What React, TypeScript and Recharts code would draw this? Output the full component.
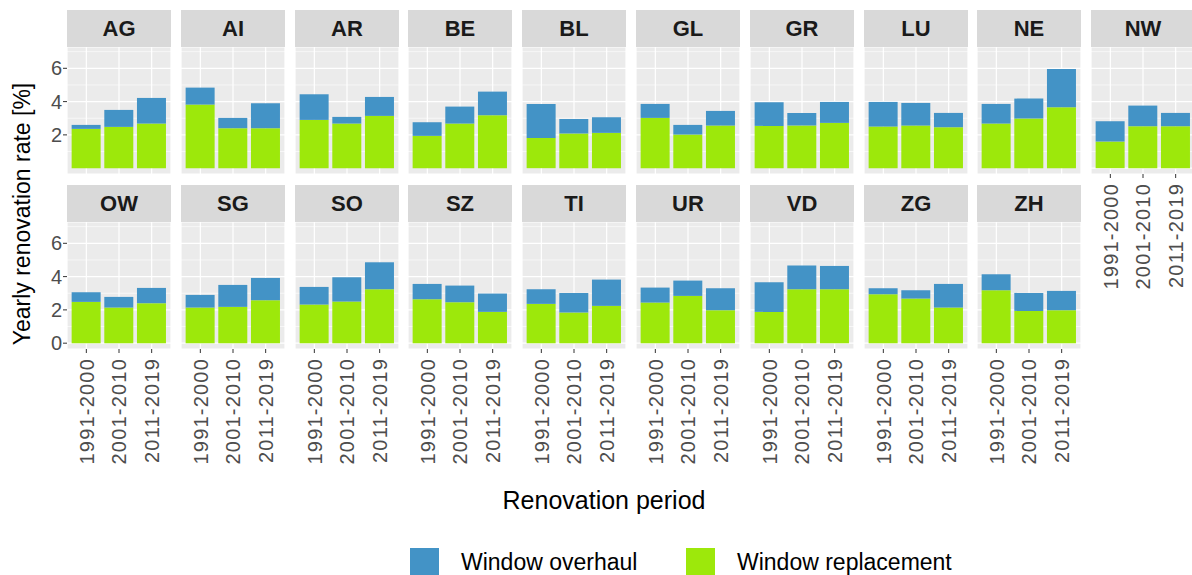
import React from 'react';
import { BarChart, Bar, XAxis, YAxis, CartesianGrid } from 'recharts';

const periods = ['1991-2000', '2001-2010', '2011-2019'];
const cantonsTop = ['AG', 'AI', 'AR', 'BE', 'BL', 'GL', 'GR', 'LU', 'NE', 'NW'];
const cantonsBottom = ['OW', 'SG', 'SO', 'SZ', 'TI', 'UR', 'VD', 'ZG', 'ZH'];

// window replacement rate [%] per canton, one value per period
const replacement: Record<string, number[]> = {
  AG: [2.36, 2.48, 2.68],
  AI: [3.82, 2.4, 2.4],
  AR: [2.9, 2.68, 3.14],
  BE: [1.94, 2.68, 3.18],
  BL: [1.82, 2.08, 2.12],
  GL: [3.02, 2.02, 2.56],
  GR: [2.54, 2.56, 2.72],
  LU: [2.5, 2.56, 2.46],
  NE: [2.68, 2.98, 3.66],
  NW: [1.6, 2.52, 2.52],
  OW: [2.48, 2.14, 2.4],
  SG: [2.14, 2.18, 2.58],
  SO: [2.32, 2.5, 3.24],
  SZ: [2.64, 2.46, 1.88],
  TI: [2.36, 1.84, 2.24],
  UR: [2.44, 2.84, 1.98],
  VD: [1.88, 3.24, 3.24],
  ZG: [2.94, 2.68, 2.14],
  ZH: [3.18, 1.94, 1.98],
};

// window overhaul rate [%] per canton, stacked on top
const overhaul: Record<string, number[]> = {
  AG: [0.24, 1.02, 1.54],
  AI: [1.02, 0.62, 1.5],
  AR: [1.54, 0.4, 1.14],
  BE: [0.82, 1.02, 1.42],
  BL: [2.04, 0.88, 0.94],
  GL: [0.84, 0.58, 0.88],
  GR: [1.42, 0.76, 1.26],
  LU: [1.48, 1.36, 0.86],
  NE: [1.18, 1.2, 2.3],
  NW: [1.22, 1.24, 0.8],
  OW: [0.58, 0.64, 0.92],
  SG: [0.76, 1.32, 1.34],
  SO: [1.06, 1.46, 1.62],
  SZ: [0.92, 1.0, 1.1],
  TI: [0.88, 1.18, 1.58],
  UR: [0.9, 0.92, 1.32],
  VD: [1.78, 1.42, 1.4],
  ZG: [0.36, 0.5, 1.42],
  ZH: [0.96, 1.08, 1.16],
};

const yTicks = [0, 2, 4, 6];
const yMinor = [1, 3, 5, 7];

const BLUE = '#4393c6';
const GREEN = '#9de80b';
const FONT = '"Liberation Sans", Arial, sans-serif';

const PANEL_W = 104;
const PANEL_H = 127;
const STEP = 113.8;
const FIRST_LEFT = 67;
const Y_AXIS_W = 67;
const X_AXIS_H = 130;

function PeriodTick({ x, y, payload }: any) {
  return (
    <g transform={`translate(${x},${y})`}>
      <text
        transform="rotate(-90)"
        x={-3}
        dy="0.36em"
        textAnchor="end"
        fill="#4d4d4d"
        fontSize={20}
        letterSpacing={1.2}
        fontFamily={FONT}
      >
        {payload.value}
      </text>
    </g>
  );
}

function Panel({ canton, col, top, withX }: { canton: string; col: number; top: number; withX: boolean }) {
  const data = periods.map((p, i) => ({
    period: p,
    replacement: replacement[canton][i],
    overhaul: overhaul[canton][i],
  }));
  const first = col === 0;
  const left = Math.round(FIRST_LEFT + col * STEP);
  const width = PANEL_W + (first ? Y_AXIS_W : 0);
  const height = PANEL_H + (withX ? X_AXIS_H : 0);

  return (
    <>
      <div
        style={{
          position: 'absolute',
          left,
          top: top - 37,
          width: PANEL_W,
          height: 37,
          background: '#d9d9d9',
          color: '#1a1a1a',
          fontWeight: 'bold',
          fontSize: 22,
          lineHeight: '37px',
          textAlign: 'center',
        }}
      >
        {canton}
      </div>
      <div style={{ position: 'absolute', left: first ? 0 : left, top }}>
        <BarChart
          width={width}
          height={height}
          data={data}
          margin={{ top: 0, right: 0, bottom: 0, left: 0 }}
          barCategoryGap="5%"
        >
          <CartesianGrid fill="#ebebeb" stroke="#ffffff" strokeWidth={1.2} />
          <CartesianGrid
            fill="none"
            stroke="#ffffff"
            strokeWidth={0.6}
            vertical={false}
            horizontalValues={yMinor}
          />
          <XAxis
            dataKey="period"
            hide={!withX}
            height={X_AXIS_H}
            padding={{ left: 3, right: 3 }}
            axisLine={false}
            tickLine={{ stroke: '#333333' }}
            tickSize={4}
            tickMargin={2}
            interval={0}
            tick={<PeriodTick />}
          />
          <YAxis
            hide={!first}
            width={Y_AXIS_W}
            domain={[-0.35, 7.28]}
            ticks={yTicks}
            allowDataOverflow
            axisLine={false}
            tickLine={{ stroke: '#333333' }}
            tickSize={4}
            tickMargin={1}
            tick={{ fill: '#4d4d4d', fontSize: 20, fontFamily: FONT }}
          />
          <Bar dataKey="replacement" stackId="a" fill={GREEN} isAnimationActive={false} />
          <Bar dataKey="overhaul" stackId="a" fill={BLUE} isAnimationActive={false} />
        </BarChart>
      </div>
    </>
  );
}

export default function App() {
  return (
    <div
      style={{
        position: 'absolute',
        left: 0,
        top: 0,
        width: 1192,
        height: 575,
        overflow: 'hidden',
        background: '#ffffff',
        fontFamily: FONT,
      }}
    >
      {cantonsTop.map((c, i) => (
        <Panel key={c} canton={c} col={i} top={47} withX={c === 'NW'} />
      ))}
      {cantonsBottom.map((c, i) => (
        <Panel key={c} canton={c} col={i} top={222} withX />
      ))}

      <div
        style={{
          position: 'absolute',
          left: 22,
          top: 214,
          transform: 'translate(-50%, -50%) rotate(-90deg)',
          whiteSpace: 'nowrap',
          fontSize: 23,
          color: '#000000',
        }}
      >
        Yearly renovation rate [%]
      </div>

      <div
        style={{
          position: 'absolute',
          left: 604,
          top: 500,
          transform: 'translate(-50%, -50%)',
          whiteSpace: 'nowrap',
          fontSize: 25,
          color: '#000000',
        }}
      >
        Renovation period
      </div>

      <div style={{ position: 'absolute', left: 410, top: 548, width: 29, height: 29, background: BLUE }} />
      <div style={{ position: 'absolute', left: 461, top: 562, transform: 'translateY(-50%)', fontSize: 23, whiteSpace: 'nowrap' }}>
        Window overhaul
      </div>
      <div style={{ position: 'absolute', left: 686, top: 548, width: 29, height: 29, background: GREEN }} />
      <div style={{ position: 'absolute', left: 737, top: 562, transform: 'translateY(-50%)', fontSize: 23, whiteSpace: 'nowrap' }}>
        Window replacement
      </div>
    </div>
  );
}
